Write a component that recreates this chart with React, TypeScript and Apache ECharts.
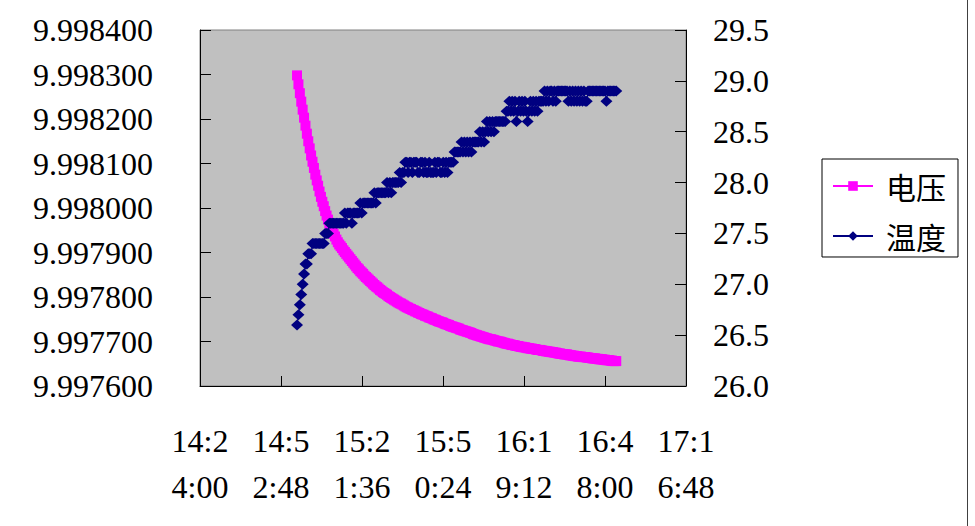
import React, { useEffect, useRef } from "react";
import * as echarts from "echarts";

// sampling of the logged data (one reading every 30 s)
const startTime = "14:58:30";
const sampleStepSeconds = 30;

// x axis ticks
const xAxisStart = "14:24:00";
const xAxisEnd = "17:16:48";
const xAxisStepSeconds = 1728;

// left axis (电压) and right axis (温度)
const voltageAxis = [9.9976, 9.9984, 0.0001];
const temperatureAxis = [26.0, 29.5, 0.5];

const seriesNames = ["电压", "温度"];

const voltage = [
  9.998298, 9.998278, 9.998258, 9.998239, 9.998221, 9.998203, 9.998185, 9.998167, 9.99815, 9.998134,
  9.998118, 9.998104, 9.99809, 9.998075, 9.998062, 9.99805, 9.998037, 9.998025, 9.998014, 9.998004,
  9.997993, 9.997983, 9.997974, 9.997966, 9.997958, 9.99795, 9.997942, 9.997936, 9.997929, 9.997923,
  9.997918, 9.997914, 9.99791, 9.997905, 9.997901, 9.997897, 9.997893, 9.997889, 9.997885, 9.997881,
  9.997877, 9.997873, 9.997869, 9.997865, 9.997862, 9.997858, 9.997855, 9.997852, 9.997848, 9.997845,
  9.997842, 9.997839, 9.997836, 9.997833, 9.99783, 9.997827, 9.997824, 9.997822, 9.997819, 9.997816,
  9.997814, 9.997811, 9.997809, 9.997807, 9.997805, 9.997802, 9.9978, 9.997798, 9.997796, 9.997794,
  9.997792, 9.99779, 9.997788, 9.997786, 9.997785, 9.997783, 9.997781, 9.997779, 9.997777, 9.997776,
  9.997774, 9.997773, 9.997771, 9.99777, 9.997768, 9.997767, 9.997765, 9.997764, 9.997762, 9.997761,
  9.99776, 9.997758, 9.997757, 9.997756, 9.997754, 9.997753, 9.997752, 9.99775, 9.997749, 9.997748,
  9.997746, 9.997745, 9.997744, 9.997743, 9.997742, 9.99774, 9.997739, 9.997738, 9.997737, 9.997735,
  9.997734, 9.997733, 9.997732, 9.997731, 9.99773, 9.997729, 9.997727, 9.997726, 9.997725, 9.997724,
  9.997723, 9.997722, 9.997721, 9.99772, 9.997719, 9.997717, 9.997716, 9.997715, 9.997714, 9.997713,
  9.997712, 9.997711, 9.99771, 9.997709, 9.997708, 9.997707, 9.997706, 9.997705, 9.997705, 9.997704,
  9.997703, 9.997702, 9.997701, 9.9977, 9.9977, 9.997699, 9.997698, 9.997697, 9.997696, 9.997695,
  9.997695, 9.997694, 9.997693, 9.997692, 9.997692, 9.997691, 9.99769, 9.99769, 9.997689, 9.997688,
  9.997688, 9.997687, 9.997687, 9.997686, 9.997685, 9.997685, 9.997684, 9.997684, 9.997683, 9.997683,
  9.997682, 9.997681, 9.997681, 9.997681, 9.99768, 9.997679, 9.997679, 9.997678, 9.997678, 9.997677,
  9.997677, 9.997676, 9.997676, 9.997675, 9.997675, 9.997674, 9.997673, 9.997673, 9.997672, 9.997672,
  9.997671, 9.997671, 9.997671, 9.99767, 9.997669, 9.997669, 9.997668, 9.997668, 9.997667, 9.997667,
  9.997666, 9.997666, 9.997666, 9.997665, 9.997665, 9.997665, 9.997664, 9.997664, 9.997663, 9.997663,
  9.997662, 9.997662, 9.997662, 9.997661, 9.997661, 9.99766, 9.99766, 9.99766, 9.997659, 9.997659,
  9.997658, 9.997658, 9.997658, 9.997657, 9.997657, 9.997656, 9.997656, 9.997656,
];

const temperature = [
  26.6, 26.7, 26.8, 26.9, 27.0, 27.1, 27.2, 27.2, 27.3, 27.3,
  27.3, 27.4, 27.4, 27.4, 27.4, 27.4, 27.4, 27.4, 27.4, 27.4,
  27.5, 27.5, 27.5, 27.6, 27.6, 27.6, 27.6, 27.6, 27.6, 27.6,
  27.6, 27.6, 27.6, 27.6, 27.7, 27.6, 27.7, 27.7, 27.7, 27.6,
  27.7, 27.7, 27.7, 27.7, 27.7, 27.8, 27.7, 27.8, 27.8, 27.8,
  27.8, 27.8, 27.8, 27.8, 27.8, 27.9, 27.8, 27.9, 27.9, 27.9,
  27.9, 27.9, 27.9, 27.9, 28.0, 27.9, 28.0, 27.9, 28.0, 28.0,
  28.0, 28.0, 28.0, 28.1, 28.0, 28.1, 28.1, 28.2, 28.2, 28.1,
  28.2, 28.2, 28.1, 28.2, 28.2, 28.2, 28.1, 28.1, 28.2, 28.2,
  28.1, 28.2, 28.1, 28.1, 28.2, 28.1, 28.1, 28.1, 28.2, 28.1,
  28.2, 28.2, 28.1, 28.1, 28.2, 28.1, 28.2, 28.1, 28.2, 28.2,
  28.2, 28.2, 28.3, 28.3, 28.3, 28.3, 28.3, 28.4, 28.3, 28.4,
  28.3, 28.4, 28.3, 28.4, 28.3, 28.4, 28.4, 28.4, 28.4, 28.4,
  28.5, 28.4, 28.5, 28.4, 28.5, 28.6, 28.5, 28.6, 28.5, 28.6,
  28.5, 28.6, 28.6, 28.6, 28.6, 28.6, 28.6, 28.6, 28.6, 28.7,
  28.7, 28.8, 28.7, 28.8, 28.7, 28.8, 28.6, 28.7, 28.8, 28.7,
  28.8, 28.7, 28.8, 28.7, 28.6, 28.7, 28.8, 28.7, 28.8, 28.7,
  28.8, 28.7, 28.8, 28.8, 28.8, 28.8, 28.9, 28.8, 28.9, 28.8,
  28.9, 28.9, 28.8, 28.9, 28.8, 28.9, 28.9, 28.9, 28.9, 28.9,
  28.9, 28.9, 28.9, 28.8, 28.9, 28.8, 28.9, 28.8, 28.9, 28.8,
  28.9, 28.8, 28.9, 28.8, 28.9, 28.8, 28.8, 28.9, 28.9, 28.9,
  28.9, 28.9, 28.9, 28.9, 28.9, 28.9, 28.9, 28.9, 28.9, 28.9,
  28.8, 28.9, 28.9, 28.9, 28.9, 28.9, 28.9, 28.9,
];

const toSeconds = (s: string) => {
  const [h, m, sec] = s.split(":").map(Number);
  return h * 3600 + m * 60 + sec;
};
const pad = (n: number) => String(n).padStart(2, "0");
const toClock = (v: number) => {
  const t = Math.round(v);
  return `${Math.floor(t / 3600)}:${pad(Math.floor((t % 3600) / 60))}:${pad(t % 60)}`;
};

const LABEL_FONT = "'Liberation Serif', 'DejaVu Serif', serif";

export default function App() {
  const ref = useRef<HTMLDivElement>(null);

  useEffect(() => {
    document.body.style.margin = "0";
    if (!ref.current) return;
    const chart = echarts.init(ref.current, undefined, { renderer: "svg" });
    const t0 = toSeconds(startTime);
    const voltData = voltage.map((v, i) => [t0 + i * sampleStepSeconds, v]);
    const tempData = temperature.map((v, i) => [t0 + i * sampleStepSeconds, v]);

    const axisLabelBase = {
      color: "#000",
      fontFamily: LABEL_FONT,
      fontSize: 32,
    };

    chart.setOption({
      animation: false,
      backgroundColor: "#ffffff",
      tooltip: { show: false },
      grid: {
        left: 200,
        top: 30,
        width: 486,
        height: 356,
        show: true,
        backgroundColor: "#C0C0C0",
        borderColor: "#808080",
        borderWidth: 1,
      },
      xAxis: {
        type: "value",
        min: toSeconds(xAxisStart),
        max: toSeconds(xAxisEnd),
        interval: xAxisStepSeconds,
        axisLine: { show: true, onZero: false, lineStyle: { color: "#000", width: 1 } },
        axisTick: { show: true, inside: true, length: 10, lineStyle: { color: "#000" } },
        splitLine: { show: false },
        axisLabel: {
          ...axisLabelBase,
          margin: 32,
          lineHeight: 46,
          showMinLabel: true,
          showMaxLabel: true,
          formatter: (v: number) => {
            const s = toClock(v);
            return s.slice(0, 4) + "\n" + s.slice(4);
          },
        },
      },
      yAxis: [
        {
          type: "value",
          position: "left",
          min: voltageAxis[0],
          max: voltageAxis[1],
          interval: voltageAxis[2],
          axisLine: { show: true, lineStyle: { color: "#000", width: 1 } },
          axisTick: { show: true, inside: true, length: 11, lineStyle: { color: "#000" } },
          splitLine: { show: false },
          axisLabel: {
            ...axisLabelBase,
            margin: 47,
            formatter: (v: number) => v.toFixed(6),
          },
        },
        {
          type: "value",
          position: "right",
          min: temperatureAxis[0],
          max: temperatureAxis[1],
          interval: temperatureAxis[2],
          axisLine: { show: true, lineStyle: { color: "#000", width: 1 } },
          axisTick: { show: true, inside: true, length: 11, lineStyle: { color: "#000" } },
          splitLine: { show: false },
          axisLabel: {
            ...axisLabelBase,
            margin: 27,
            formatter: (v: number) => v.toFixed(1),
          },
        },
      ],
      legend: {
        orient: "vertical",
        left: 822,
        top: 159,
        data: seriesNames,
        backgroundColor: "#ffffff",
        borderColor: "#000",
        borderWidth: 1,
        borderRadius: 0,
        padding: [12, 12, 6, 10],
        itemWidth: 40,
        itemHeight: 12,
        itemGap: 20,
        selectedMode: false,
        textStyle: {
          fontFamily: "'Noto Sans CJK SC', sans-serif",
          fontSize: 30,
          color: "#000",
          padding: [0, 0, 0, 8],
        },
      },
      graphic: [
        {
          type: "line",
          shape: { x1: 967.5, y1: 0, x2: 967.5, y2: 526 },
          style: { stroke: "#404040", lineWidth: 1 },
          silent: true,
        },
      ],
      series: [
        {
          name: seriesNames[0],
          type: "line",
          yAxisIndex: 0,
          data: voltData,
          symbol: "rect",
          symbolSize: 10,
          showAllSymbol: true,
          itemStyle: { color: "#FF00FF" },
          lineStyle: { color: "#FF00FF", width: 1 },
          z: 2,
        },
        {
          name: seriesNames[1],
          type: "line",
          yAxisIndex: 1,
          data: tempData,
          symbol: "diamond",
          symbolSize: [12, 11],
          showAllSymbol: true,
          itemStyle: { color: "#000080" },
          lineStyle: { color: "#000080", width: 1 },
          z: 3,
        },
      ],
    });
    return () => chart.dispose();
  }, []);

  return <div ref={ref} style={{ width: 975, height: 526 }} />;
}
